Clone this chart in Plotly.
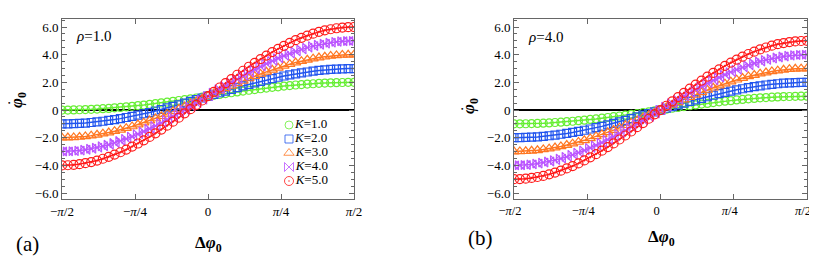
import plotly.graph_objects as go

# Phase difference (degrees; axis labelled in units of pi)
dphi = [-90.0, -86.4, -82.8, -79.2, -75.6, -72.0, -68.4, -64.8, -61.2, -57.6,
        -54.0, -50.4, -46.8, -43.2, -39.6, -36.0, -32.4, -28.8, -25.2, -21.6,
        -18.0, -14.4, -10.8, -7.2, -3.6, 0.0, 3.6, 7.2, 10.8, 14.4,
        18.0, 21.6, 25.2, 28.8, 32.4, 36.0, 39.6, 43.2, 46.8, 50.4,
        54.0, 57.6, 61.2, 64.8, 68.4, 72.0, 75.6, 79.2, 82.8, 86.4, 90.0]

# Panel (a): rho = 1.0
a_K1 = [0.00, 0.00, 0.01, 0.02, 0.03, 0.05, 0.07, 0.10, 0.12, 0.16, 0.19, 0.23, 0.27, 0.32, 0.36, 0.41, 0.46,
        0.52, 0.57, 0.63, 0.69, 0.75, 0.81, 0.87, 0.94, 1.00, 1.06, 1.13, 1.19, 1.25, 1.31, 1.37, 1.43, 1.48,
        1.54, 1.59, 1.64, 1.68, 1.73, 1.77, 1.81, 1.84, 1.88, 1.90, 1.93, 1.95, 1.97, 1.98, 1.99, 2.00, 2.00]
a_K2 = [-1.00, -1.00, -0.98, -0.96, -0.94, -0.90, -0.86, -0.81, -0.75, -0.69, -0.62, -0.54, -0.46, -0.37, -0.27,
        -0.18, -0.07, 0.04, 0.15, 0.26, 0.38, 0.50, 0.63, 0.75, 0.87, 1.00, 1.13, 1.25, 1.37, 1.50, 1.62, 1.74,
        1.85, 1.96, 2.07, 2.18, 2.27, 2.37, 2.46, 2.54, 2.62, 2.69, 2.75, 2.81, 2.86, 2.90, 2.94, 2.96, 2.98,
        3.00, 3.00]
a_K3 = [-2.00, -1.99, -1.98, -1.95, -1.91, -1.85, -1.79, -1.71, -1.63, -1.53, -1.43, -1.31, -1.19, -1.05, -0.91,
        -0.76, -0.61, -0.45, -0.28, -0.10, 0.07, 0.25, 0.44, 0.62, 0.81, 1.00, 1.19, 1.38, 1.56, 1.75, 1.93,
        2.10, 2.28, 2.45, 2.61, 2.76, 2.91, 3.05, 3.19, 3.31, 3.43, 3.53, 3.63, 3.71, 3.79, 3.85, 3.91, 3.95,
        3.98, 3.99, 4.00]
a_K4 = [-3.00, -2.99, -2.97, -2.93, -2.87, -2.80, -2.72, -2.62, -2.51, -2.38, -2.24, -2.08, -1.92, -1.74, -1.55,
        -1.35, -1.14, -0.93, -0.70, -0.47, -0.24, 0.00, 0.25, 0.50, 0.75, 1.00, 1.25, 1.50, 1.75, 2.00, 2.24,
        2.47, 2.70, 2.93, 3.14, 3.35, 3.55, 3.74, 3.92, 4.08, 4.24, 4.38, 4.51, 4.62, 4.72, 4.80, 4.87, 4.93,
        4.97, 4.99, 5.00]
a_K5 = [-4.00, -3.99, -3.96, -3.91, -3.84, -3.76, -3.65, -3.52, -3.38, -3.22, -3.05, -2.86, -2.64, -2.42, -2.19,
        -1.94, -1.68, -1.41, -1.13, -0.84, -0.55, -0.24, 0.06, 0.37, 0.69, 1.00, 1.31, 1.63, 1.94, 2.24, 2.55,
        2.84, 3.13, 3.41, 3.68, 3.94, 4.19, 4.42, 4.64, 4.86, 5.05, 5.22, 5.38, 5.52, 5.65, 5.76, 5.84, 5.91,
        5.96, 5.99, 6.00]

# Panel (b): rho = 4.0
b_K1 = [-1.00, -1.00, -0.99, -0.98, -0.97, -0.95, -0.93, -0.90, -0.88, -0.84, -0.81, -0.77, -0.73, -0.68, -0.64,
        -0.59, -0.54, -0.48, -0.43, -0.37, -0.31, -0.25, -0.19, -0.13, -0.06, 0.00, 0.06, 0.13, 0.19, 0.25, 0.31,
        0.37, 0.43, 0.48, 0.54, 0.59, 0.64, 0.68, 0.73, 0.77, 0.81, 0.84, 0.88, 0.90, 0.93, 0.95, 0.97, 0.98,
        0.99, 1.00, 1.00]
b_K2 = [-2.00, -2.00, -1.98, -1.96, -1.94, -1.90, -1.86, -1.81, -1.75, -1.69, -1.62, -1.54, -1.46, -1.37, -1.27,
        -1.18, -1.07, -0.96, -0.85, -0.74, -0.62, -0.50, -0.37, -0.25, -0.13, 0.00, 0.13, 0.25, 0.37, 0.50, 0.62,
        0.74, 0.85, 0.96, 1.07, 1.18, 1.27, 1.37, 1.46, 1.54, 1.62, 1.69, 1.75, 1.81, 1.86, 1.90, 1.94, 1.96,
        1.98, 2.00, 2.00]
b_K3 = [-3.00, -2.99, -2.98, -2.95, -2.91, -2.85, -2.79, -2.71, -2.63, -2.53, -2.43, -2.31, -2.19, -2.05, -1.91,
        -1.76, -1.61, -1.45, -1.28, -1.10, -0.93, -0.75, -0.56, -0.38, -0.19, 0.00, 0.19, 0.38, 0.56, 0.75, 0.93,
        1.10, 1.28, 1.45, 1.61, 1.76, 1.91, 2.05, 2.19, 2.31, 2.43, 2.53, 2.63, 2.71, 2.79, 2.85, 2.91, 2.95,
        2.98, 2.99, 3.00]
b_K4 = [-4.00, -3.99, -3.97, -3.93, -3.87, -3.80, -3.72, -3.62, -3.51, -3.38, -3.24, -3.08, -2.92, -2.74, -2.55,
        -2.35, -2.14, -1.93, -1.70, -1.47, -1.24, -1.00, -0.75, -0.50, -0.25, 0.00, 0.25, 0.50, 0.75, 1.00, 1.24,
        1.47, 1.70, 1.93, 2.14, 2.35, 2.55, 2.74, 2.92, 3.08, 3.24, 3.38, 3.51, 3.62, 3.72, 3.80, 3.87, 3.93,
        3.97, 3.99, 4.00]
b_K5 = [-5.00, -4.99, -4.96, -4.91, -4.84, -4.76, -4.65, -4.52, -4.38, -4.22, -4.05, -3.86, -3.64, -3.42, -3.19,
        -2.94, -2.68, -2.41, -2.13, -1.84, -1.55, -1.24, -0.94, -0.63, -0.31, 0.00, 0.31, 0.63, 0.94, 1.24, 1.55,
        1.84, 2.13, 2.41, 2.68, 2.94, 3.19, 3.42, 3.64, 3.86, 4.05, 4.22, 4.38, 4.52, 4.65, 4.76, 4.84, 4.91,
        4.96, 4.99, 5.00]

legend_labels = ["<i>K</i>=1.0", "<i>K</i>=2.0", "<i>K</i>=3.0", "<i>K</i>=4.0", "<i>K</i>=5.0"]
x_tickvals = [-90, -45, 0, 45, 90]
x_ticktext = ["\u2212<i>\u03c0</i>/2", "\u2212<i>\u03c0</i>/4", "0", "<i>\u03c0</i>/4", "<i>\u03c0</i>/2"]
y_tickvals = [-6, -4, -2, 0, 2, 4, 6]
y_ticktext = ["\u22126.0", "\u22124.0", "\u22122.0", "0", "2.0", "4.0", "6.0"]

colors = ["#66ee33", "#2255ee", "#ff7722", "#bb55ff", "#ff1a1a"]
symbols = ["circle-open", "square-open", "triangle-up-open", "bowtie-open", "circle-open-dot"]
sizes = [8, 8, 9, 9, 9]

SERIF = "Liberation Serif"
OFF = 8                      # the page's default body margin offsets the figure by 8 px
W, H = 817 - OFF, 266 - OFF

fig = go.Figure()

panels = [("x", "y", [a_K1, a_K2, a_K3, a_K4, a_K5]),
          ("x2", "y2", [b_K1, b_K2, b_K3, b_K4, b_K5])]
for xa, ya, series in panels:
    for i, ys in enumerate(series):
        fig.add_trace(go.Scatter(x=dphi, y=ys, mode="lines", xaxis=xa, yaxis=ya,
                                 line=dict(color=colors[i], width=1.5), showlegend=False,
                                 hoverinfo="skip"))
    for i, ys in enumerate(series):
        fig.add_trace(go.Scatter(x=dphi, y=ys, mode="markers", xaxis=xa, yaxis=ya,
                                 marker=dict(symbol=symbols[i], size=sizes[i], color=colors[i],
                                             line=dict(width=1.2, color=colors[i])),
                                 showlegend=False))

# custom legend (one row per series)
for i, lab in enumerate(legend_labels):
    fig.add_trace(go.Scatter(x=[0], y=[i + 1], mode="markers+text", xaxis="x3", yaxis="y3",
                             text=[lab], textposition="middle right",
                             textfont=dict(family=SERIF, size=13, color="black"),
                             marker=dict(symbol=symbols[i], size=sizes[i], color=colors[i],
                                         line=dict(width=1.0, color=colors[i]), opacity=0.8),
                             showlegend=False, cliponaxis=False))

def px_x(p):
    return (p - OFF) / W

def px_y(p):
    return 1 - (p - OFF) / H

frame = "#666666"
xcommon = dict(range=[-90, 90], tickvals=x_tickvals, ticktext=x_ticktext, ticks="inside", ticklen=5,
               tickcolor=frame, showline=True, linecolor=frame, linewidth=1, mirror="ticks",
               showgrid=False, zeroline=False, automargin=False, ticklabeloverflow="allow",
               tickfont=dict(family=SERIF, size=13, color="black"))
ycommon = dict(range=[-6.43, 6.58], tickvals=y_tickvals, ticktext=y_ticktext, ticks="inside", ticklen=5,
               tickcolor=frame, showline=True, linecolor=frame, linewidth=1, mirror="ticks",
               showgrid=False, zeroline=True, zerolinecolor="black", zerolinewidth=1.5, automargin=False,
               minor=dict(tick0=0, dtick=0.5, ticks="inside", ticklen=3, tickcolor=frame),
               tickfont=dict(family=SERIF, size=13, color="black"))

ydom = [px_y(199), px_y(19)]
fig.update_layout(
    template="none",
    width=W, height=H, margin=dict(l=0, r=0, t=0, b=0, autoexpand=False),
    paper_bgcolor="white", plot_bgcolor="white", showlegend=False,
    font=dict(family=SERIF, size=13, color="black"),
    xaxis=dict(domain=[px_x(62), px_x(354)], anchor="y", **xcommon),
    yaxis=dict(domain=ydom, anchor="x", **ycommon),
    xaxis2=dict(domain=[px_x(514), px_x(807)], anchor="y2", **xcommon),
    yaxis2=dict(domain=ydom, anchor="x2", **ycommon),
    xaxis3=dict(domain=[px_x(283), px_x(343)], anchor="y3", range=[-0.1, 0.9], visible=False,
                automargin=False),
    yaxis3=dict(domain=[px_y(188), px_y(118)], anchor="x3", range=[5.5, 0.5], visible=False,
                automargin=False),
)
# keep the last tick label of panel (b) inside the page
fig.update_layout(xaxis2=dict(ticklabelshift=-4, tickfont=dict(size=12.5)))

ann = []
def add_text(x, y, text, size, angle=0):
    ann.append(dict(x=px_x(x), y=px_y(y), xref="paper", yref="paper", text=text, showarrow=False,
                    xanchor="center", yanchor="middle", textangle=angle,
                    font=dict(family=SERIF, size=size, color="black")))

add_text(93, 36, "<i>\u03c1</i>=1.0", 15)
add_text(545, 37, "<i>\u03c1</i>=4.0", 15)
add_text(27, 244, "(a)", 21)
add_text(481, 238, "(b)", 21)
add_text(208, 244, "<b>\u0394<i>\u03c6</i><sub>0</sub></b>", 17)
add_text(661, 238, "<b>\u0394<i>\u03c6</i><sub>0</sub></b>", 17)
# y-axis labels: phi with subscript 0, plus an overdot
add_text(18, 100, "<b><i>\u03c6</i><sub>0</sub></b>", 17, -90)
add_text(470, 106, "<b><i>\u03c6</i><sub>0</sub></b>", 17, -90)
add_text(10, 103, "<b>\u2022</b>", 7)
add_text(462, 109, "<b>\u2022</b>", 7)
fig.update_layout(annotations=ann)

fig.write_html("out.html")
